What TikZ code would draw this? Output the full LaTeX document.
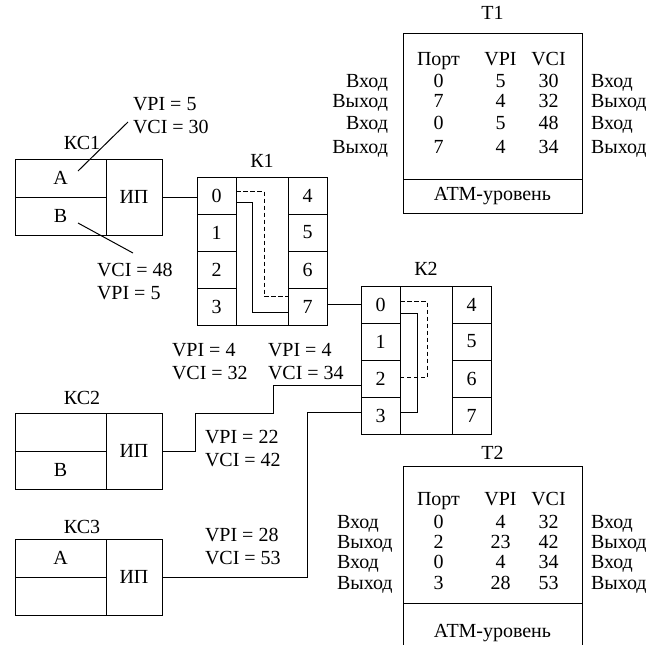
\documentclass[tikz,border=0pt]{standalone}
\usepackage{fontspec}
\setmainfont{Liberation Serif}
\usetikzlibrary{positioning,calc,fit,matrix}

\begin{document}
\begin{tikzpicture}[
    x=1pt, y=-1pt,
    line width=1pt,
    txt/.style={font=\fontsize{20}{23}\selectfont, inner sep=0pt, outer sep=0pt},
    vclabel/.style={txt, align=left, anchor=north west},
    title/.style={txt, anchor=base},
    stcell/.style={txt, draw, minimum width=91pt, minimum height=38pt},
    ipcell/.style={txt, draw, minimum width=56pt, minimum height=76pt},
    portcell/.style={txt, draw, minimum width=39pt, minimum height=37pt},
    tabcell/.style={txt, text height=13.5pt, text depth=4pt},
    tabbox/.style={draw, minimum width=179pt, inner sep=0pt, outer sep=0pt},
    vcpath/.style={dash pattern=on 4.5pt off 2.5pt},
]
\useasboundingbox (0,0) rectangle (654,645);
\clip (0,0) rectangle (654,645);

% ============ END STATIONS ============
\node[stcell] (kc1a) at (60.5,178) {А};
\node[stcell, below=0pt of kc1a] (kc1b) {В};
\node[ipcell, anchor=north west] (kc1ip) at (kc1a.north east) {ИП};
\node[title] (kc1lbl) at (82,149) {КС1};

\node[stcell] (kc2a) at (60.5,432) {};
\node[stcell, below=0pt of kc2a] (kc2b) {В};
\node[ipcell, anchor=north west] (kc2ip) at (kc2a.north east) {ИП};
\node[title] (kc2lbl) at (82,404) {КС2};

\node[stcell] (kc3a) at (60.5,558) {А};
\node[stcell, below=0pt of kc3a] (kc3b) {};
\node[ipcell, anchor=north west] (kc3ip) at (kc3a.north east) {ИП};
\node[title] (kc3lbl) at (82,533) {КС3};

% ============ SWITCHES ============
\foreach \i in {0,...,3} {
  \pgfmathtruncatemacro\o{\i+4}
  \node[portcell] (k1p\i) at (216.5,195.5+37*\i) {\i};
  \node[portcell] (k1p\o) at (307.5,195.5+37*\i) {\o};
  \node[portcell] (k2p\i) at (380.5,304.5+37*\i) {\i};
  \node[portcell] (k2p\o) at (471.5,304.5+37*\i) {\o};
}
\node[draw, fit=(k1p0)(k1p7), inner sep=0pt] (k1box) {};
\node[draw, fit=(k2p0)(k2p7), inner sep=0pt] (k2box) {};
\node[title, above=9pt of k1box] (k1lbl) {К1};
\node[title, above=10.5pt of k2box] (k2lbl) {К2};

% switching paths
\draw[vcpath] ($(k1p0.east)+(0,-4)$) -- ++(28,0) |- ($(k1p7.west)+(0,-10)$);
\draw ($(k1p0.east)+(0,7)$) -- ++(16,0) |- ($(k1p7.west)+(0,6)$);
\draw[vcpath] ($(k2p0.east)+(0,-3)$) -- ++(27,0) |- ($(k2p2.east)+(0,-1)$);
\draw ($(k2p0.east)+(0,9)$) -- ++(17,0) |- ($(k2p3.east)+(0,-3)$);

% ============ LINKS ============
\draw (kc1ip.east) -- (kc1ip.east -| k1p0.west);
\draw (k2p0.west -| k1p7.east) -- (k2p0.west);
\draw (kc2ip.east) -- ++(33,0) -- ++(0,-38) -- ++(78,0) |- ($(k2p2.west)+(0,7)$);
\draw (kc3ip.east) -- ++(145,0) |- ($(k2p3.west)+(0,-3)$);

% ============ VPI/VCI LABELS ============
\node[vclabel] (kc1vca) at (133,97.4) {VPI = 5\\VCI = 30};
\node[vclabel] (kc1vcb) at (97,263.4) {VCI = 48\\VPI = 5};
\node[vclabel] (k2vc32) at (172,343.4) {VPI = 4\\VCI = 32};
\node[vclabel] (k2vc34) at (268,343.4) {VPI = 4\\VCI = 34};
\node[vclabel] (kc2vc) at (205,430.4) {VPI = 22\\VCI = 42};
\node[vclabel] (kc3vc) at (205,528.4) {VPI = 28\\VCI = 53};
\draw ($(kc1a.center)+(17.5,-7)$) -- ($(kc1vca.north west)+(-5,24.6)$);
\draw ($(kc1b.center)+(17.5,7)$) -- ($(kc1vcb.north west)+(36,-10.4)$);

% ============ TABLE T1 ============
\node[tabbox, minimum height=146pt, anchor=north west] (t1box) at (403,33) {};
\node[tabbox, txt, minimum height=34pt, anchor=north] (t1atm) at (t1box.south) {АТМ-уровень};
\node[title, above=13.4pt of t1box] (t1lbl) {Т1};
\matrix[matrix of nodes, nodes={tabcell}, inner sep=0pt, row sep=0pt, column sep=0pt,
        column 1/.style={nodes={minimum width=70pt}},
        column 2/.style={nodes={minimum width=54pt}},
        column 3/.style={nodes={minimum width=42pt}},
        anchor=north west] (t1tab) at (403,51.1) {
Порт & VPI & VCI \\[4.5pt]
0 & 5 & 30 \\[2.5pt]
7 & 4 & 32 \\[4.5pt]
0 & 5 & 48 \\[6.5pt]
7 & 4 & 34 \\
};
\foreach \r/\lab in {2/Вход,3/Выход,4/Вход,5/Выход} {
  \node[tabcell, anchor=east, xshift=-15pt] (t1in\r) at (t1tab-\r-1 -| t1box.west) {\lab};
  \node[tabcell, anchor=west, xshift=9pt] (t1out\r) at (t1tab-\r-3 -| t1box.east) {\lab};
}

% ============ TABLE T2 ============
\node[tabbox, minimum height=137pt, anchor=north west] (t2box) at (403,466) {};
\node[tabbox, txt, minimum height=60pt, anchor=north] (t2atm) at (t2box.south) {АТМ-уровень};
\node[title, above=6.4pt of t2box] (t2lbl) {Т2};
\matrix[matrix of nodes, nodes={tabcell}, inner sep=0pt, row sep=0pt, column sep=0pt,
        column 1/.style={nodes={minimum width=70pt}},
        column 2/.style={nodes={minimum width=54pt}},
        column 3/.style={nodes={minimum width=42pt}},
        anchor=north west] (t2tab) at (403,491.1) {
Порт & VPI & VCI \\[5.5pt]
0 & 4 & 32 \\[2.5pt]
2 & 23 & 42 \\[2.5pt]
0 & 4 & 34 \\[3.5pt]
3 & 28 & 53 \\
};
\foreach \r/\lab in {2/Вход,3/Выход,4/Вход,5/Выход} {
  \node[tabcell, anchor=west, xshift=-66pt] (t2in\r) at (t2tab-\r-1 -| t2box.west) {\lab};
  \node[tabcell, anchor=west, xshift=9pt] (t2out\r) at (t2tab-\r-3 -| t2box.east) {\lab};
}

\end{tikzpicture}
\end{document}
